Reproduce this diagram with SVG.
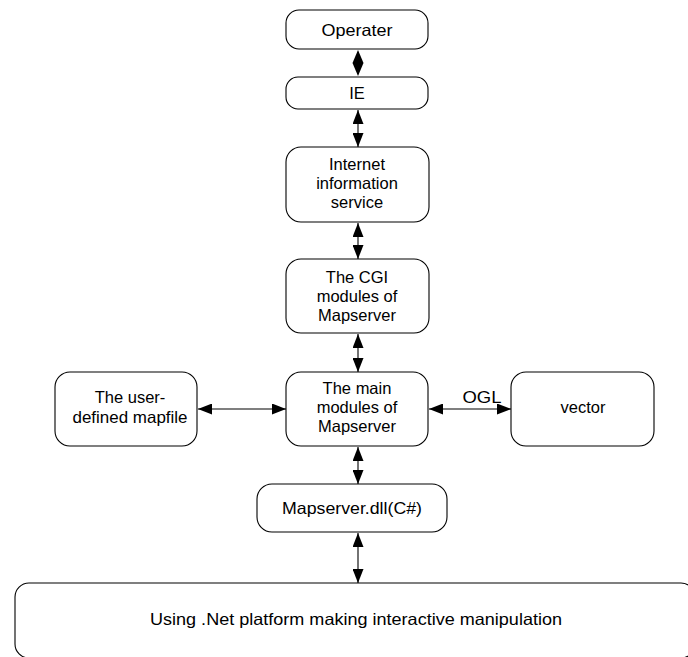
<svg xmlns="http://www.w3.org/2000/svg" width="688" height="657" viewBox="0 0 688 657">
<defs>
<style>
.box{fill:#fff;stroke:#000;stroke-width:1.1}
text{font-family:"Liberation Sans",Arial,sans-serif;font-size:16.5px;fill:#000;text-anchor:middle}
.ln{stroke:#000;stroke-width:1.1;fill:none;marker-start:url(#ah);marker-end:url(#ah)}
</style>
<marker id="ah" viewBox="0 0 14 11" refX="14" refY="5.5" markerWidth="14" markerHeight="11" markerUnits="userSpaceOnUse" orient="auto-start-reverse">
<path d="M0,0 L14,5.5 L0,11 Z" fill="#000"/>
</marker>
</defs>
<rect width="688" height="657" fill="#fff"/>
<g id="connectors">
<polygon points="358,50 363.5,63 358,76 352.5,63" fill="#000"/>
<line class="ln" x1="358" y1="110" x2="358" y2="147"/>
<line class="ln" x1="358" y1="223" x2="358" y2="259"/>
<line class="ln" x1="358" y1="334" x2="358" y2="372"/>
<line class="ln" x1="358" y1="447" x2="358" y2="484"/>
<line class="ln" x1="358" y1="533" x2="358" y2="583"/>
<line class="ln" x1="198" y1="409" x2="286" y2="409"/>
<line class="ln" x1="429" y1="409" x2="511" y2="409"/>
<text x="482" y="403" textLength="39" lengthAdjust="spacingAndGlyphs">OGL</text>
</g>
<g id="operater"><rect class="box" x="286" y="10" width="142" height="39" rx="13"/><text x="357" y="36" textLength="71" lengthAdjust="spacingAndGlyphs">Operater</text></g>
<g id="ie"><rect class="box" x="286" y="77" width="142" height="32" rx="12"/><text x="357" y="99">IE</text></g>
<g id="iis"><rect class="box" x="286" y="147" width="143" height="75" rx="15"/><text x="357" y="170">Internet</text><text x="357" y="189">information</text><text x="357" y="208">service</text></g>
<g id="cgi"><rect class="box" x="286" y="259" width="143" height="74" rx="15"/><text x="357" y="283">The CGI</text><text x="357" y="302">modules of</text><text x="357" y="321">Mapserver</text></g>
<g id="main"><rect class="box" x="286" y="372" width="142" height="74" rx="15"/><text x="357" y="394">The main</text><text x="357" y="413">modules of</text><text x="357" y="432">Mapserver</text></g>
<g id="mapfile"><rect class="box" x="55" y="372" width="142" height="74" rx="15"/><text x="130" y="403">The user-</text><text x="130" y="423" textLength="115" lengthAdjust="spacingAndGlyphs">defined mapfile</text></g>
<g id="vector"><rect class="box" x="511" y="372" width="143" height="74" rx="15"/><text x="583" y="413">vector</text></g>
<g id="dll"><rect class="box" x="257" y="484" width="190" height="48" rx="15"/><text x="352" y="514" textLength="140" lengthAdjust="spacingAndGlyphs">Mapserver.dll(C#)</text></g>
<g id="net"><rect class="box" x="15" y="583" width="680" height="75" rx="14"/><text x="356" y="625" textLength="412" lengthAdjust="spacingAndGlyphs">Using .Net platform making interactive manipulation</text></g>
</svg>
